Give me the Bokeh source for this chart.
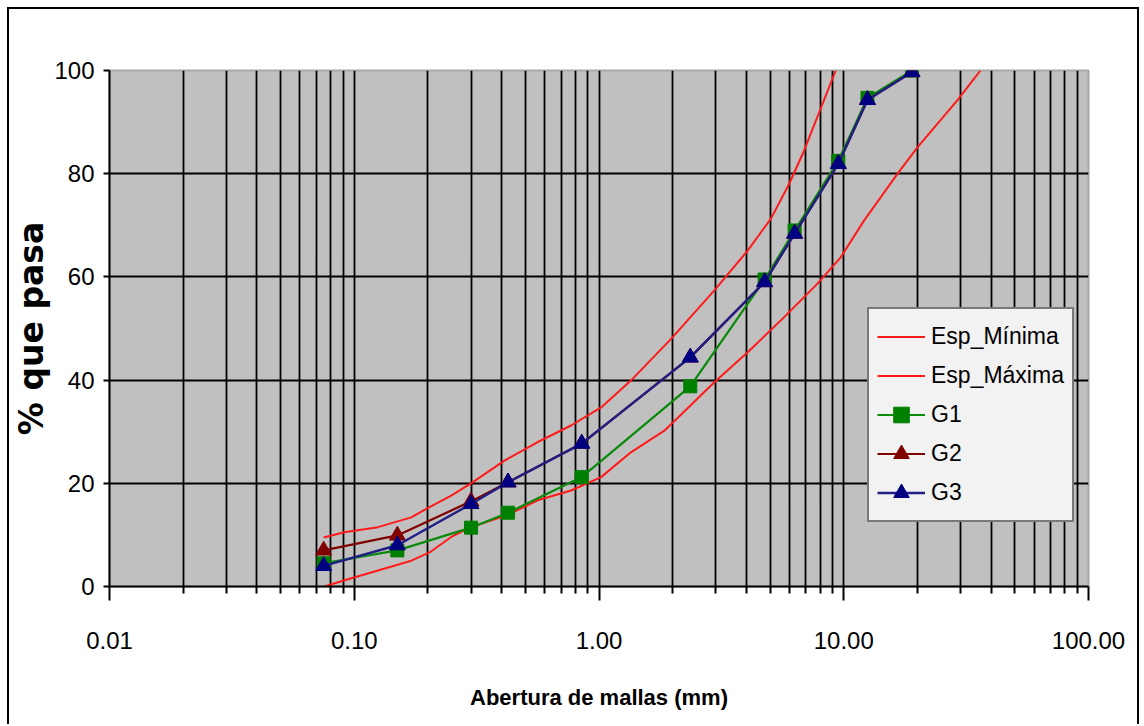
from bokeh.plotting import figure
from bokeh.models import (FixedTicker, Legend, LegendItem, Range1d,
                          CustomJSTickFormatter)
from bokeh.embed import file_html
from bokeh.resources import INLINE

# ---------------- data ----------------
sieve_mm = [0.075, 0.15, 0.3, 0.425, 0.85, 2.36, 4.75, 6.3, 9.5, 12.5, 19.0]
g1 = [4.5, 7.0, 11.4, 14.3, 21.2, 38.8, 59.5, 69.0, 82.5, 94.7, 100.0]
g2 = [7.0, 9.9, 16.5, 20.2, 27.7, 44.4, 59.0, 68.4, 81.9, 94.3, 99.7]
g3 = [4.0, 8.0, 16.0, 20.2, 27.7, 44.4, 59.0, 68.4, 81.9, 94.3, 99.7]

esp_max_x = [0.075, 0.091, 0.125, 0.171, 0.203, 0.249, 0.300, 0.411, 0.562,
             0.769, 1.02, 1.35, 1.97, 2.96, 4.05, 5.04, 5.98, 6.89, 9.27]
esp_max_y = [9.5, 10.5, 11.5, 13.4, 15.4, 17.6, 20.0, 24.4, 28.0,
             31.2, 34.7, 39.9, 48.0, 57.4, 65.1, 71.3, 78.0, 84.5, 100.0]
esp_min_x = [0.0756, 0.0913, 0.125, 0.171, 0.203, 0.249, 0.300, 0.42, 0.562,
             0.769, 1.02, 1.35, 1.85, 2.96, 4.05, 5.71, 7.81, 9.72, 12.1,
             16.6, 20.0, 29.1, 36.2]
esp_min_y = [0.0, 1.2, 3.1, 5.0, 6.6, 9.6, 11.5, 13.8, 16.7,
             18.6, 21.2, 26.0, 30.2, 39.6, 45.4, 52.2, 58.7, 63.8, 70.9,
             80.0, 85.1, 94.2, 100.0]

x_major = [0.01, 0.1, 1, 10, 100]
y_major = [0, 20, 40, 60, 80, 100]

FONT = "Liberation Sans"

p = figure(width=1132, height=717, x_axis_type="log",
           x_range=Range1d(0.01, 100), y_range=Range1d(0, 100),
           output_backend="svg", toolbar_location=None,
           min_border_left=99, min_border_right=53,
           min_border_top=61, min_border_bottom=140)
p.styles = {"margin-left": "7px", "margin-top": "7px",
            "border-left": "2px solid black", "border-top": "2px solid black",
            "border-right": "2px solid black"}

p.background_fill_color = "#c0c0c0"
p.border_fill_color = "white"
p.outline_line_color = "#a8a8a8"
p.outline_line_width = 2

# ticks
minors = [m * 10 ** e for e in range(-2, 2) for m in range(2, 10)]
p.xaxis.ticker = FixedTicker(ticks=x_major, minor_ticks=minors)
p.xaxis.formatter = CustomJSTickFormatter(code="return tick.toFixed(2);")
p.yaxis.ticker = FixedTicker(ticks=y_major)

p.xgrid.ticker = FixedTicker(ticks=[0.1, 1, 10], minor_ticks=minors)
p.xgrid.grid_line_color = "black"
p.xgrid.grid_line_width = 1.8
p.xgrid.minor_grid_line_color = "black"
p.xgrid.minor_grid_line_width = 1.8
p.ygrid.ticker = FixedTicker(ticks=[20, 40, 60, 80])
p.ygrid.grid_line_color = "black"
p.ygrid.grid_line_width = 2

for ax in (p.xaxis[0], p.yaxis[0]):
    ax.axis_line_color = "black"
    ax.axis_line_width = 2
    ax.major_tick_line_color = "black"
    ax.major_tick_line_width = 2
    ax.minor_tick_line_color = "black"
    ax.minor_tick_line_width = 2
    ax.major_tick_in = 0
    ax.minor_tick_in = 0
    ax.major_label_text_font = FONT
    ax.major_label_text_font_size = "24px"
    ax.major_label_text_color = "black"

p.xaxis.major_tick_out = 14
p.xaxis.minor_tick_out = 7
p.xaxis.major_label_standoff = 31
p.xaxis.axis_label = "Abertura de mallas (mm)"
p.xaxis.axis_label_text_font = FONT
p.xaxis.axis_label_text_font_style = "bold"
p.xaxis.axis_label_text_font_size = "22px"
p.xaxis.axis_label_text_color = "black"
p.xaxis.axis_label_standoff = 33

p.yaxis.major_tick_out = 6
p.yaxis.minor_tick_out = 0
p.yaxis.major_label_standoff = 9
p.yaxis.axis_label = "% que pasa"
p.yaxis.axis_label_text_font = "DejaVu Sans"
p.yaxis.axis_label_text_font_style = "bold"
p.yaxis.axis_label_text_font_size = "33px"
p.yaxis.axis_label_text_color = "black"
p.yaxis.axis_label_standoff = 0

# series
r_min = p.line(esp_min_x, esp_min_y, line_color="#ff1a1a", line_width=2)
r_max = p.line(esp_max_x, esp_max_y, line_color="#ff1a1a", line_width=2)

l1 = p.line(sieve_mm, g1, line_color="#0a8a0a", line_width=2.2)
m1 = p.scatter(sieve_mm, g1, marker="square", size=13, fill_color="#008000",
               line_color="#008000")
l2 = p.line(sieve_mm, g2, line_color="#800000", line_width=2.2)
m2 = p.scatter(sieve_mm, g2, marker="triangle", size=16, fill_color="#800000",
               line_color="#800000")
l3 = p.line(sieve_mm, g3, line_color="#1f1f85", line_width=2.4)
m3 = p.scatter(sieve_mm, g3, marker="triangle", size=16, fill_color="#000080",
               line_color="#000080")

legend = Legend(items=[
    LegendItem(label="Esp_Mínima", renderers=[r_min]),
    LegendItem(label="Esp_Máxima", renderers=[r_max]),
    LegendItem(label="G1", renderers=[l1, m1]),
    LegendItem(label="G2", renderers=[l2, m2]),
    LegendItem(label="G3", renderers=[l3, m3]),
], location=(758, 64))
legend.label_text_font = FONT
legend.label_text_font_size = "23px"
legend.label_text_color = "black"
legend.glyph_width = 48
legend.glyph_height = 39
legend.label_height = 39
legend.spacing = 0
legend.padding = 8
legend.margin = 0
legend.label_standoff = 6
legend.border_line_color = "black"
legend.border_line_width = 2
legend.background_fill_color = "#f2f2f2"
legend.background_fill_alpha = 1
p.add_layout(legend)

open("out.html", "w").write(file_html(p, INLINE))
